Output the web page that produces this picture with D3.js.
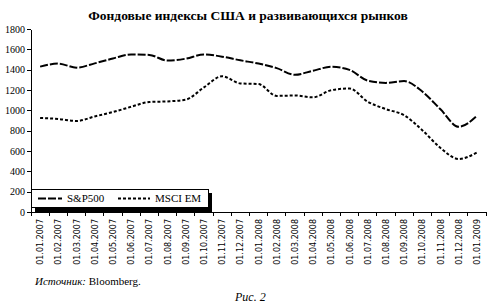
<!DOCTYPE html>
<html>
<head>
<meta charset="utf-8">
<script src="https://cdn.jsdelivr.net/npm/d3@7"></script>
<style>
  body { margin: 0; background: #fff; }
  svg { display: block; }
  .axis path, .axis line { stroke: #000; stroke-width: 1; shape-rendering: crispEdges; }
  .ylab text { font-family: "Liberation Serif", serif; font-size: 10px; fill: #000; }
  .xlab text { font-family: "DejaVu Sans", sans-serif; font-size: 8px; fill: #000; }
</style>
</head>
<body>
<script>
// ---- data ----
var dates = ["01.01.2007","01.02.2007","01.03.2007","01.04.2007","01.05.2007","01.06.2007",
  "01.07.2007","01.08.2007","01.09.2007","01.10.2007","01.11.2007","01.12.2007",
  "01.01.2008","01.02.2008","01.03.2008","01.04.2008","01.05.2008","01.06.2008",
  "01.07.2008","01.08.2008","01.09.2008","01.10.2008","01.11.2008","01.12.2008","01.01.2009"];
var sp500 = [1430,1460,1420,1462,1510,1550,1545,1490,1508,1550,1528,1492,
  1460,1415,1350,1390,1428,1398,1292,1270,1288,1185,1010,838,945];
var msciEm = [925,915,895,940,983,1035,1082,1088,1105,1225,1335,1265,
  1258,1142,1146,1128,1198,1215,1085,1012,952,805,630,522,585];
var yTicks = [0,200,400,600,800,1000,1200,1400,1600,1800];
var seriesNames = ["S&P500","MSCI EM"];

var title = "Фондовые индексы США и развивающихся рынков";

// ---- layout ----
var W = 500, H = 306;
var plotL = 31, plotR = 486, plotT = 29, plotB = 212;

var svg = d3.select("body").append("svg")
  .attr("width", W)
  .attr("height", H);

var x = d3.scaleBand()
  .domain(dates)
  .range([plotL, plotR])
  .padding(0);

var y = d3.scaleLinear()
  .domain([0, 1800])
  .range([plotB, plotT]);

// title
svg.append("text")
  .attr("x", 248)
  .attr("y", 20)
  .attr("text-anchor", "middle")
  .style("font-family", "Liberation Serif, serif")
  .style("font-weight", "bold")
  .style("font-size", "13.5px")
  .text(title);

// y axis
svg.append("g")
  .attr("class", "axis ylab")
  .attr("transform", "translate(" + plotL + ",0)")
  .call(d3.axisLeft(y).tickValues(yTicks).tickFormat(d3.format("d"))
    .tickSize(4).tickSizeOuter(0).tickPadding(2));

// x axis: tick marks between categories
var tickPos = d3.range(dates.length + 1).map(function(i) { return plotL + i * x.bandwidth(); });
var xg = svg.append("g").attr("class", "axis");
xg.append("line")
  .attr("x1", plotL).attr("x2", plotR)
  .attr("y1", plotB).attr("y2", plotB);
xg.selectAll(".tk")
  .data(tickPos)
  .enter().append("line")
  .attr("class", "tk")
  .attr("x1", function(d) { return d; })
  .attr("x2", function(d) { return d; })
  .attr("y1", plotB)
  .attr("y2", plotB + 4);

// x labels (rotated)
svg.append("g")
  .attr("class", "xlab")
  .selectAll("text")
  .data(dates)
  .enter().append("text")
  .attr("transform", function(d) {
    return "translate(" + (x(d) + x.bandwidth() / 2 + 3) + "," + 219 + ") rotate(-90)";
  })
  .attr("text-anchor", "end")
  .text(function(d) { return d; });

// lines
var line = d3.line()
  .x(function(d, i) { return x(dates[i]) + x.bandwidth() / 2; })
  .y(function(d) { return y(d); })
  .curve(d3.curveMonotoneX);

svg.append("path")
  .datum(sp500)
  .attr("d", line)
  .attr("fill", "none")
  .attr("stroke", "#000")
  .attr("stroke-width", 2)
  .attr("stroke-dasharray", "8,2");

svg.append("path")
  .datum(msciEm)
  .attr("d", line)
  .attr("fill", "none")
  .attr("stroke", "#000")
  .attr("stroke-width", 2)
  .attr("stroke-dasharray", "3,2");

// legend
var lg = svg.append("g");
lg.append("rect")
  .attr("x", 35).attr("y", 193)
  .attr("width", 177).attr("height", 19)
  .attr("fill", "#000");
lg.append("rect")
  .attr("x", 31.5).attr("y", 189.5)
  .attr("width", 177).attr("height", 18)
  .attr("fill", "#fff")
  .attr("stroke", "#000")
  .attr("stroke-width", 1);

var legendItems = [
  {name: seriesNames[0], x1: 38, x2: 62, tx: 67, dash: "8,2"},
  {name: seriesNames[1], x1: 118, x2: 150, tx: 155, dash: "3,2"}
];
legendItems.forEach(function(it) {
  lg.append("line")
    .attr("x1", it.x1).attr("x2", it.x2)
    .attr("y1", 198.5).attr("y2", 198.5)
    .attr("stroke", "#000")
    .attr("stroke-width", 2)
    .attr("stroke-dasharray", it.dash);
  lg.append("text")
    .attr("x", it.tx)
    .attr("y", 202)
    .style("font-family", "Liberation Serif, serif")
    .style("font-size", "11px")
    .text(it.name);
});

// source and caption
var src = svg.append("text")
  .attr("x", 35)
  .attr("y", 285)
  .style("font-family", "Liberation Serif, serif")
  .style("font-size", "11px");
src.append("tspan").style("font-style", "italic").text("Источник: ");
src.append("tspan").text("Bloomberg.");

svg.append("text")
  .attr("x", 235)
  .attr("y", 301)
  .style("font-family", "Liberation Serif, serif")
  .style("font-style", "italic")
  .style("font-size", "12px")
  .text("Рис. 2");
</script>
</body>
</html>
